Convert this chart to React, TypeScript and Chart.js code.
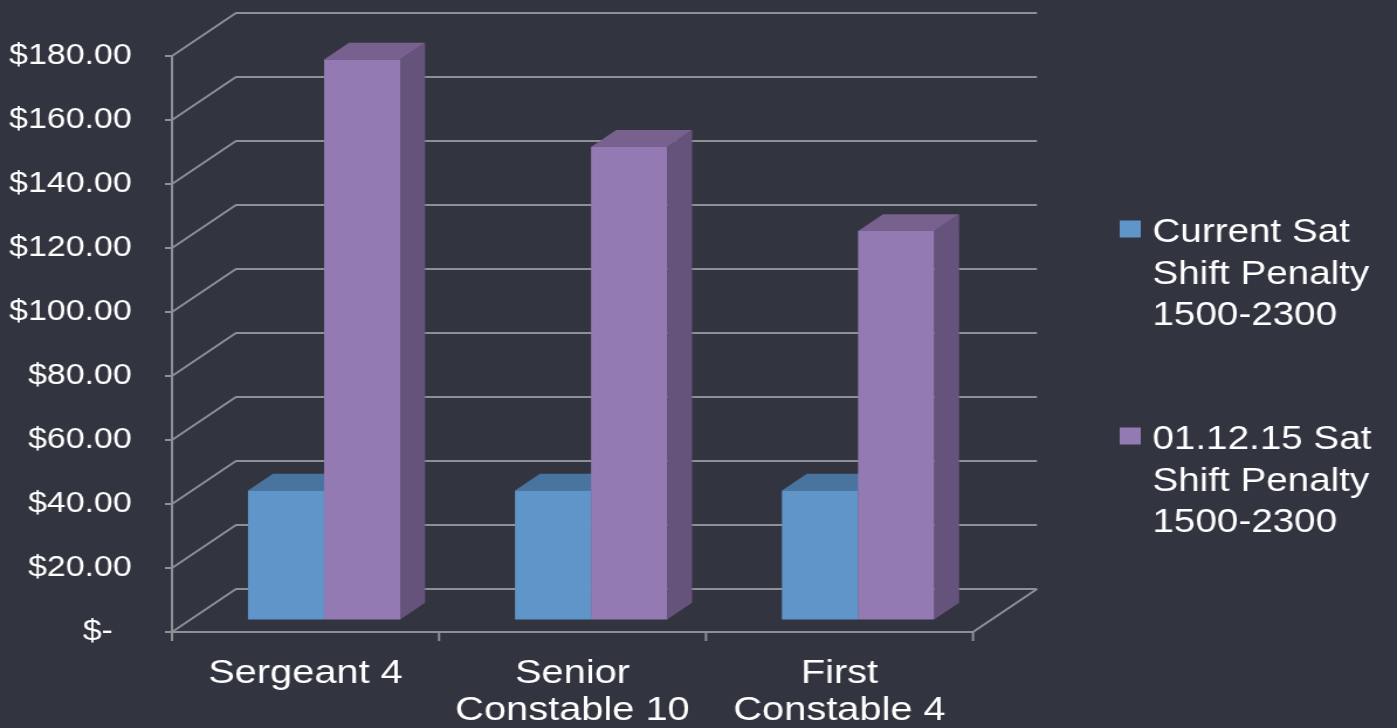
import { useEffect, useRef } from "react";
import { Chart, registerables } from "chart.js";

Chart.register(...registerables);

// ---- data ----
const categories: string[][] = [["Sergeant 4"], ["Senior", "Constable 10"], ["First", "Constable 4"]];
const currentSatPenalty: number[] = [40.3, 40.3, 40.3];
const newSatPenalty: number[] = [175.0, 147.7, 121.4];
const seriesNames: string[][] = [
  ["Current Sat", "Shift Penalty", "1500-2300"],
  ["01.12.15 Sat", "Shift Penalty", "1500-2300"],
];
const yMin = 0;
const yMax = 180;
const yStep = 20;

// ---- styling ----
const FONT = "'Liberation Sans', Arial, Helvetica, sans-serif";
const BG = "#323540";
const GRID = "#8f9095";
const TEXT = "#ffffff";
const FACE_FRONT = ["#5f95c9", "#937ab2"];
const FACE_TOP = ["#4a74a0", "#78618f"];
const FACE_SIDE = ["#42668f", "#65537c"];

// Canvas is drawn narrower and widened by CSS, giving the wide type of the slide.
const VIEW_W = 1397;
const VIEW_H = 728;
const STRETCH = 1.17;
const CANVAS_W = Math.round(VIEW_W / STRETCH);

// oblique projection of the depth axis
const DEPTH_X = 54.7;
const DEPTH_Y = -43;
const BAR_FRONT = 0.29; // where the bar fronts sit within the depth
const BAR_DEPTH = 0.39; // how deep each bar is

function drawWalls(chart: any) {
  const { ctx, chartArea: a, scales } = chart;
  const x = scales.x;
  const y = scales.y;
  const y0 = y.getPixelForValue(yMin);
  const yTop = y.getPixelForValue(yMax);
  ctx.save();
  ctx.strokeStyle = GRID;
  ctx.lineCap = "butt";
  // side wall diagonals + back wall gridlines
  ctx.lineWidth = 1.8;
  for (const t of y.ticks) {
    const py = y.getPixelForValue(t.value);
    ctx.beginPath();
    ctx.moveTo(a.left, py);
    ctx.lineTo(a.left + DEPTH_X, py + DEPTH_Y);
    ctx.lineTo(a.right + DEPTH_X, py + DEPTH_Y);
    ctx.stroke();
  }
  // floor front edge and right edge
  ctx.lineWidth = 2;
  ctx.beginPath();
  ctx.moveTo(a.left, y0);
  ctx.lineTo(a.right, y0);
  ctx.lineTo(a.right + DEPTH_X, y0 + DEPTH_Y);
  ctx.stroke();
  // value axis
  ctx.beginPath();
  ctx.moveTo(a.left, yTop);
  ctx.lineTo(a.left, y0);
  ctx.stroke();
  // value tick marks
  for (const t of y.ticks) {
    const py = y.getPixelForValue(t.value);
    ctx.beginPath();
    ctx.moveTo(a.left - 6, py);
    ctx.lineTo(a.left, py);
    ctx.stroke();
  }
  // category boundary tick marks
  const n = categories.length;
  for (let i = 0; i <= n; i++) {
    const px = x.left + (i * (x.right - x.left)) / n;
    ctx.beginPath();
    ctx.moveTo(px, y0);
    ctx.lineTo(px, y0 + 9);
    ctx.stroke();
  }
  ctx.restore();
}

function drawBars(chart: any) {
  const { ctx } = chart;
  const metas = chart.data.datasets.map((_: any, i: number) => chart.getDatasetMeta(i));
  const bx = DEPTH_X * BAR_DEPTH;
  const by = DEPTH_Y * BAR_DEPTH;
  ctx.save();
  ctx.translate(DEPTH_X * BAR_FRONT, DEPTH_Y * BAR_FRONT);
  // left-to-right so each column hides the hidden faces of its left neighbour
  categories.forEach((_, j) => {
    metas.forEach((meta: any, i: number) => {
      const bar = meta.data[j];
      if (!bar) return;
      const { x, y, base, width } = bar;
      const l = x - width / 2;
      const r = x + width / 2;
      ctx.fillStyle = FACE_SIDE[i];
      ctx.beginPath();
      ctx.moveTo(r, y);
      ctx.lineTo(r + bx, y + by);
      ctx.lineTo(r + bx, base + by);
      ctx.lineTo(r, base);
      ctx.closePath();
      ctx.fill();
      ctx.fillStyle = FACE_TOP[i];
      ctx.beginPath();
      ctx.moveTo(l, y);
      ctx.lineTo(r, y);
      ctx.lineTo(r + bx, y + by);
      ctx.lineTo(l + bx, y + by);
      ctx.closePath();
      ctx.fill();
      // front face painted by the bar element itself
      bar.draw(ctx, chart.chartArea);
    });
  });
  ctx.restore();
}

const bars3dPlugin = {
  id: "bars3d",
  beforeDatasetsDraw(chart: any) {
    drawWalls(chart);
    drawBars(chart);
    return false;
  },
  afterDraw(chart: any) {
    const { ctx } = chart;
    const squareX = 957;
    const textX = 985;
    const firstLineY = [233, 440];
    const lineH = 41.5;
    ctx.save();
    ctx.font = `33px ${FONT}`;
    ctx.textBaseline = "middle";
    ctx.textAlign = "left";
    chart.data.datasets.forEach((ds: any, i: number) => {
      const lines: string[] = ds.legendLines;
      const top = firstLineY[i];
      ctx.fillStyle = ds.backgroundColor;
      ctx.fillRect(squareX, top - 12.5, 18, 17);
      ctx.fillStyle = TEXT;
      lines.forEach((line, k) => ctx.fillText(line, textX, top + k * lineH));
    });
    ctx.restore();
  },
};

export default function App() {
  const canvasRef = useRef<HTMLCanvasElement | null>(null);

  useEffect(() => {
    const canvas = canvasRef.current;
    if (!canvas) return;
    const chart = new Chart(canvas, {
      type: "bar",
      data: {
        labels: categories,
        datasets: [
          {
            label: seriesNames[0].join(" "),
            legendLines: seriesNames[0],
            data: currentSatPenalty,
            backgroundColor: FACE_FRONT[0],
            borderWidth: 0,
            clip: false,
          } as any,
          {
            label: seriesNames[1].join(" "),
            legendLines: seriesNames[1],
            data: newSatPenalty,
            backgroundColor: FACE_FRONT[1],
            borderWidth: 0,
            clip: false,
          } as any,
        ],
      },
      options: {
        responsive: false,
        devicePixelRatio: 1,
        animation: false,
        events: [],
        layout: { padding: { top: 56, right: CANVAS_W - 831.6, bottom: 0, left: 0 } },
        datasets: { bar: { barPercentage: 1, categoryPercentage: 0.57 } },
        plugins: {
          legend: { display: false },
          tooltip: { enabled: false },
        },
        scales: {
          x: {
            type: "category",
            offset: true,
            grid: { display: false, drawTicks: false },
            border: { display: false },
            ticks: {
              color: TEXT,
              padding: 23,
              maxRotation: 0,
              autoSkip: false,
              font: { family: FONT, size: 34, lineHeight: 1.1 },
            },
            afterFit: (scale: any) => {
              scale.height = VIEW_H - 632;
            },
          },
          y: {
            type: "linear",
            min: yMin,
            max: yMax,
            grid: { display: false, drawTicks: false },
            border: { display: false },
            ticks: {
              stepSize: yStep,
              color: TEXT,
              padding: 34.4,
              font: { family: FONT, size: 29 },
              callback: (v: any) => (Number(v) === 0 ? "$-  " : "$" + Number(v).toFixed(2)),
            },
            afterFit: (scale: any) => {
              scale.width = 147;
            },
          },
        },
      },
      plugins: [bars3dPlugin],
    } as any);
    return () => chart.destroy();
  }, []);

  return (
    <div
      style={{
        position: "fixed",
        left: 0,
        top: 0,
        width: VIEW_W,
        height: VIEW_H,
        background: BG,
        overflow: "hidden",
      }}
    >
      <canvas
        ref={canvasRef}
        width={CANVAS_W}
        height={VIEW_H}
        style={{ width: `${VIEW_W}px`, height: `${VIEW_H}px`, display: "block" }}
      />
    </div>
  );
}
